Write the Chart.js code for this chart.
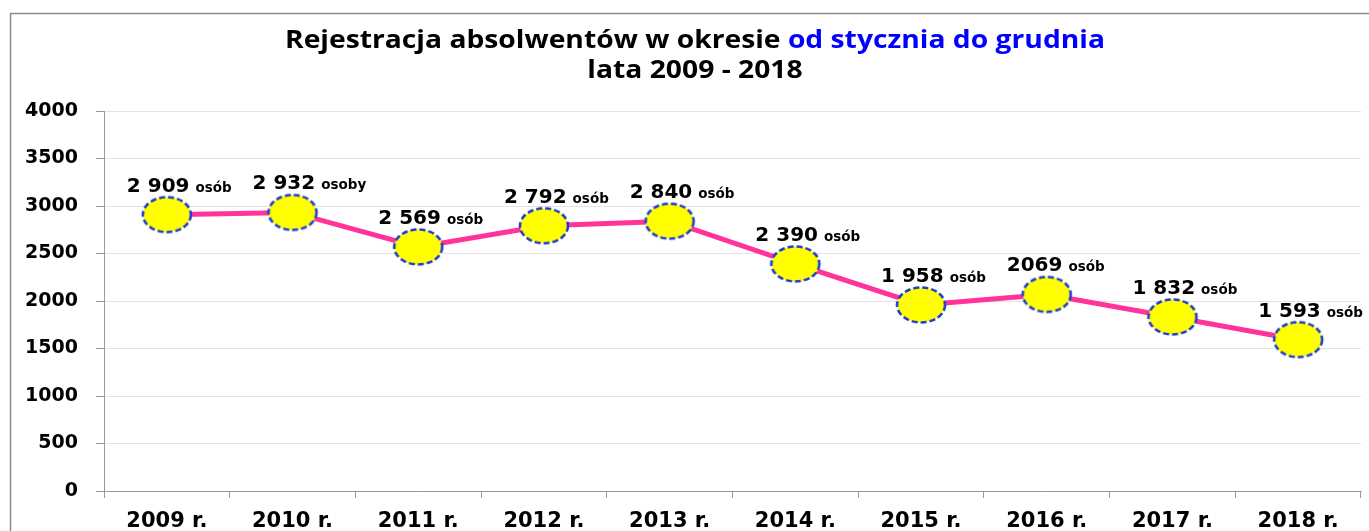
<!DOCTYPE html>
<html>
<head>
<meta charset="utf-8">
<script src="https://cdn.jsdelivr.net/npm/chart.js@4/dist/chart.umd.min.js"></script>
<style>
    html, body { margin: 0; padding: 0; background: #fff; overflow: hidden; }
    #wrap { position: relative; width: 1369px; height: 531px; }
</style>
</head>
<body>
<div id="wrap"><canvas id="chart"></canvas></div>
<script>
    'use strict';

    // data
    const years = ['2009 r.', '2010 r.', '2011 r.', '2012 r.', '2013 r.',
                   '2014 r.', '2015 r.', '2016 r.', '2017 r.', '2018 r.'];
    const graduates = [2909, 2932, 2569, 2792, 2840, 2390, 1958, 2069, 1832, 1593];
    const valueLabels = ['2 909', '2 932', '2 569', '2 792', '2 840',
                         '2 390', '1 958', '2069', '1 832', '1 593'];
    const unitLabels = ['osób', 'osoby', 'osób', 'osób', 'osób',
                        'osób', 'osób', 'osób', 'osób', 'osób'];
    const yMin = 0, yMax = 4000, yStep = 500;
    const titleBlack = 'Rejestracja absolwentów w okresie ';
    const titleBlue = 'od stycznia do grudnia';
    const titleLine2 = 'lata 2009 - 2018';

    // yellow ellipse with dashed blue rim, used as point style
    function make_marker() {
        let c = document.createElement('canvas');
        c.width = 54;
        c.height = 40;
        let ctx = c.getContext('2d');
        ctx.beginPath();
        ctx.ellipse(27, 20, 24, 17.5, 0, 0, Math.PI * 2);
        ctx.fillStyle = '#ffff00';
        ctx.fill();
        ctx.setLineDash([6, 3]);
        ctx.lineWidth = 2.6;
        ctx.strokeStyle = '#1f3fd2';
        ctx.stroke();
        return c;
    }

    const framePlugin = {
        id: 'frame',
        beforeDraw(chart) {
            let ctx = chart.ctx;
            ctx.save();
            ctx.strokeStyle = '#8a8a8a';
            ctx.lineWidth = 1.5;
            ctx.beginPath();
            ctx.moveTo(10.5, chart.height);
            ctx.lineTo(10.5, 13.5);
            ctx.lineTo(chart.width, 13.5);
            ctx.stroke();
            ctx.restore();
        },
        afterDraw(chart) {
            // two-colour title, stretched a bit like the original
            let ctx = chart.ctx;
            ctx.save();
            ctx.textBaseline = 'middle';
            ctx.font = 'bold 25px "Open Sans"';
            let w1 = ctx.measureText(titleBlack).width,
                w2 = ctx.measureText(titleBlue).width,
                sx = 820 / (w1 + w2);
            ctx.translate(695, 0);
            ctx.scale(sx, 1);
            let x = -(w1 + w2) / 2;
            ctx.fillStyle = '#000';
            ctx.fillText(titleBlack, x, 41);
            ctx.fillStyle = '#0000ff';
            ctx.fillText(titleBlue, x + w1, 41);
            ctx.fillStyle = '#000';
            ctx.textAlign = 'center';
            ctx.fillText(titleLine2, 0, 71);
            ctx.restore();
        }
    };

    const valueLabelPlugin = {
        id: 'valueLabels',
        afterDatasetsDraw(chart) {
            let ctx = chart.ctx,
                meta = chart.getDatasetMeta(0);
            ctx.save();
            ctx.fillStyle = '#000';
            ctx.textBaseline = 'alphabetic';
            meta.data.forEach((pt, i) => {
                let x = pt.x - 40,
                    y = pt.y - 23;
                ctx.font = 'bold 20px "DejaVu Sans"';
                ctx.fillText(valueLabels[i], x, y);
                let w = ctx.measureText(valueLabels[i]).width;
                ctx.font = 'bold 13.5px "DejaVu Sans"';
                ctx.fillText(unitLabels[i], x + w + 6, y);
            });
            ctx.restore();
        }
    };

    new Chart(document.getElementById('chart'), {
        type: 'line',
        data: {
            labels: years,
            datasets: [{
                data: graduates,
                borderColor: '#ff3399',
                borderWidth: 5,
                pointStyle: make_marker(),
                pointRadius: 20,
                tension: 0
            }]
        },
        options: {
            responsive: true,
            maintainAspectRatio: false,
            animation: false,
            layout: {
                autoPadding: false,
                padding: { top: 111, left: 10, right: 8, bottom: 0 }
            },
            plugins: {
                legend: { display: false },
                title: { display: false },
                tooltip: { enabled: false }
            },
            scales: {
                x: {
                    offset: true,
                    grid: {
                        offset: true,
                        drawOnChartArea: false,
                        tickLength: 7,
                        tickColor: '#999'
                    },
                    border: { color: '#999' },
                    ticks: {
                        color: '#000',
                        padding: 11,
                        maxRotation: 0,
                        font: { family: 'DejaVu Sans', size: 21, weight: 'bold' }
                    },
                    afterFit(scale) {
                        scale.height = 40;
                        scale.paddingLeft = 0;
                        scale.paddingRight = 0;
                    }
                },
                y: {
                    min: yMin,
                    max: yMax,
                    grid: {
                        color: '#e2e2e2',
                        tickLength: 8,
                        tickColor: '#999'
                    },
                    border: { color: '#999' },
                    ticks: {
                        stepSize: yStep,
                        color: '#000',
                        padding: 18,
                        font: { family: 'DejaVu Sans', size: 19, weight: 'bold' },
                        callback: (v) => String(v)
                    },
                    afterFit(scale) { scale.width = 94; }
                }
            }
        },
        plugins: [framePlugin, valueLabelPlugin]
    });
</script>
</body>
</html>
